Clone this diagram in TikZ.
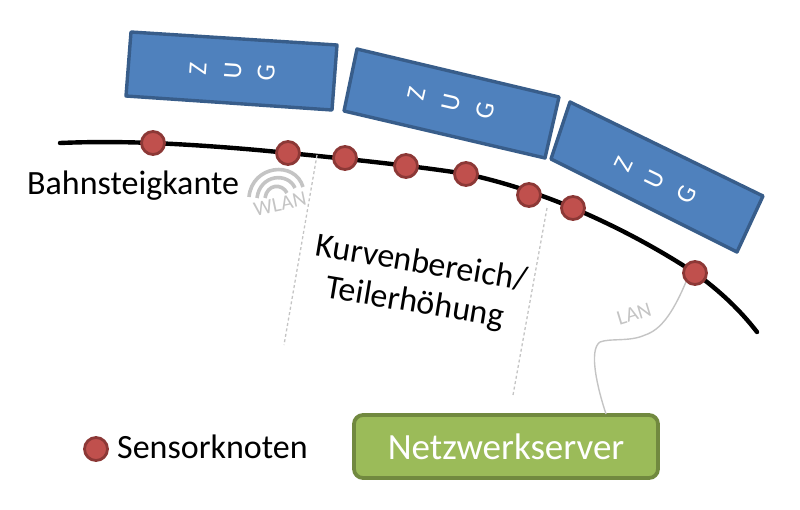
\documentclass[tikz,border=0pt]{standalone}
\usepackage{fontspec}
\setmainfont{Carlito}
\usetikzlibrary{calc}
\definecolor{zugfill}{HTML}{4F81BD}
\definecolor{zugline}{HTML}{385D8A}
\definecolor{sensfill}{HTML}{C0504D}
\definecolor{sensline}{HTML}{8C3836}
\definecolor{srvfill}{HTML}{9BBB59}
\definecolor{srvline}{HTML}{71893F}
\definecolor{lgrey}{HTML}{C4C4C4}
\tikzset{
 x=1pt,y=-1pt,
 zugbox/.style={draw=zugline,line width=3.4pt,fill=zugfill,line join=round},
 zugletter/.style={text=white,font=\fontsize{26}{26}\selectfont,inner sep=0pt},
 sensor/.style={circle,draw=sensline,line width=2.8pt,fill=sensfill,minimum size=23pt,inner sep=0pt},
 rail/.style={draw=black,line width=4.4pt,line cap=round},
 guide/.style={draw=lgrey,line width=1.3pt,dashed,dash pattern=on 3pt off 2.5pt},
 label/.style={text=black,font=\fontsize{34}{40}\selectfont,inner sep=0pt,align=center},
 small/.style={text=lgrey,inner sep=0pt,font=\fontsize{21}{21}\selectfont},
 wifi/.style={draw=lgrey,line width=3.6pt},
}
\begin{document}
\begin{tikzpicture}
\useasboundingbox (0,0) rectangle (800,509);
% rail
\draw[rail] (60,143) .. controls (95,141.5) and (125,142) .. (153,143)
 .. controls (200,145) and (250,149) .. (288,153)
 .. controls (360,160) and (430,168) .. (466,174)
 .. controls (500,181) and (540,194) .. (573,208)
 .. controls (620,228) and (660,250) .. (695,273)
 .. controls (720,291) and (740,310) .. (757,332);
% trains
\draw[zugbox] (131,32) -- (337,45) -- (332,110) -- (126,96) -- cycle;
\draw[zugbox] (357,49) -- (559,97) -- (545,158) -- (344,111) -- cycle;
\draw[zugbox] (570,102) -- (763,196) -- (737,252) -- (551,159) -- cycle;
\node[zugletter,rotate=86] (z1) at (198,69) {Z};
\node[zugletter,rotate=86] (u1) at (233,71) {U};
\node[zugletter,rotate=86] (g1) at (266,73) {G};
\node[zugletter,rotate=77] (z2) at (417,94) {Z};
\node[zugletter,rotate=77] (u2) at (451,103) {U};
\node[zugletter,rotate=77] (g2) at (485,111) {G};
\node[zugletter,rotate=64] (z3) at (624,164) {Z};
\node[zugletter,rotate=64] (u3) at (655,179) {U};
\node[zugletter,rotate=64] (g3) at (687,194) {G};
% guides
\coordinate (ga1) at (317,155); \coordinate (ga2) at (284,345);
\coordinate (gb1) at (547,208); \coordinate (gb2) at (513,395);
\draw[guide] (ga1) -- (ga2);
\draw[guide] (gb1) -- (gb2);
% sensors
\foreach \n/\px/\py in {a/153/143,b/288/153,c/345/158,d/406/166,e/466/174,f/529/195,g/573/208,h/695/273}
  \node[sensor] (s\n) at (\px,\py) {};
% labels
\node[label,anchor=west] (kante) at (27,186) {Bahnsteigkante};
\node[label,rotate=-9.5] (kurve) at (418,284) {Kurvenbereich/\\Teilerhöhung};
% WLAN
\draw[wifi] (249,197) .. controls (252,165) and (295,160) .. (303,187);
\draw[wifi] (257,198) .. controls (260,174) and (288,172) .. (295,188);
\draw[wifi] (265,198) .. controls (267,184) and (282,183) .. (287,193);
\node[small,rotate=12] (wlan) at (280,204) {WLAN};
% server
\node[draw=srvline,line width=3.8pt,fill=srvfill,rounded corners=9pt,minimum width=304pt,minimum height=63pt,inner sep=0pt,text=white,font=\fontsize{37}{37}\selectfont] (srv) at (506,446.5) {Netzwerkserver};
% LAN
\node[small,rotate=17] (lan) at (634,314) {LAN};
\draw[lgrey,line width=1.4pt] (sh.south west) .. controls (672,315) and (660,330) .. (645,335)
  .. controls (630,342) and (610,338) .. (600,342)
  .. controls (588,350) and (598,390) .. (606,414);
% legend
\node[sensor] (leg) at (96,449) {};
\node[label,anchor=west] (legt) at (117,447) {Sensorknoten};
\end{tikzpicture}
\end{document}
